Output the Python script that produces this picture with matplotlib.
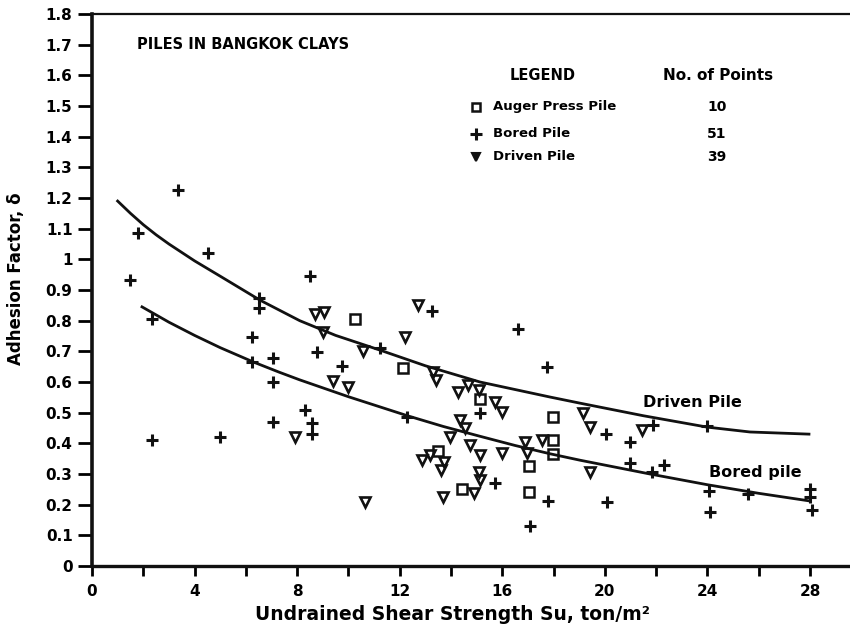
import matplotlib
matplotlib.use('Agg')
import matplotlib.pyplot as plt
import numpy as np


#adhesion factor vs undrained shear strength, piles in bangkok clays
auger_su = [10.26, 12.13, 15.13, 17.96, 17.98, 17.96, 17.05, 17.04, 14.42, 13.48]
auger_alpha = [0.805, 0.645, 0.545, 0.485, 0.41, 0.365, 0.326, 0.241, 0.251, 0.376]

bored_su = [1.48, 1.8, 2.35, 2.33, 3.37, 4.53, 5.0, 6.5, 6.5, 6.25, 6.23, 7.07, 7.07,
            7.07, 8.5, 8.3, 8.58, 8.58, 8.77, 9.75, 11.23, 12.3, 13.26, 15.13, 15.72,
            16.6, 17.75, 17.78, 17.1, 20.05, 21.0, 21.88, 20.98, 21.84, 22.3, 20.08,
            24.0, 24.06, 24.1, 25.6, 28.0, 28.0, 28.06]
bored_alpha = [0.933, 1.086, 0.805, 0.41, 1.225, 1.02, 0.42, 0.875, 0.84, 0.747, 0.665,
               0.678, 0.60, 0.468, 0.946, 0.508, 0.466, 0.43, 0.698, 0.652, 0.71, 0.487,
               0.831, 0.499, 0.27, 0.773, 0.649, 0.212, 0.13, 0.43, 0.405, 0.46, 0.336,
               0.307, 0.329, 0.209, 0.458, 0.245, 0.176, 0.235, 0.251, 0.225, 0.183]

driven_su = [7.92, 8.7, 9.05, 9.0, 9.4, 9.98, 10.57, 10.65, 12.2, 12.7, 13.3, 13.42,
             12.85, 13.2, 13.73, 13.6, 13.7, 13.96, 14.28, 14.67, 15.1, 15.72, 16.0,
             14.35, 14.55, 14.74, 15.13, 16.0, 15.1, 15.13, 14.9, 16.9, 16.97, 17.55,
             19.15, 19.42, 19.42, 21.45]
driven_alpha = [0.42, 0.822, 0.828, 0.763, 0.603, 0.585, 0.70, 0.209, 0.748, 0.851, 0.633,
                0.606, 0.345, 0.362, 0.339, 0.313, 0.226, 0.42, 0.567, 0.59, 0.574, 0.535,
                0.502, 0.476, 0.45, 0.394, 0.363, 0.368, 0.307, 0.28, 0.237, 0.405, 0.368,
                0.41, 0.498, 0.453, 0.307, 0.443]

#trend curves
driven_curve_su = [1.0, 1.5, 2.0, 2.5, 3.0, 4.0, 5.0, 6.55, 8.1, 9.5, 11.23, 13.0, 15.13,
                   17.86, 19.03, 21.5, 23.98, 25.66, 27.96]
driven_curve_alpha = [1.19, 1.15, 1.113, 1.08, 1.05, 0.995, 0.945, 0.867, 0.80, 0.752,
                      0.704, 0.653, 0.60, 0.551, 0.531, 0.49, 0.453, 0.437, 0.43]
bored_curve_su = [1.95, 3.0, 4.0, 5.0, 6.3, 7.3, 8.1, 10.0, 12.3, 13.7, 15.13, 16.5,
                  17.86, 19.03, 21.76, 24.0, 26.0, 28.0]
bored_curve_alpha = [0.845, 0.795, 0.752, 0.712, 0.665, 0.632, 0.607, 0.552, 0.49, 0.455,
                     0.423, 0.393, 0.366, 0.345, 0.30, 0.265, 0.237, 0.212]

legend_names = ['Auger Press Pile', 'Bored Pile', 'Driven Pile']
legend_counts = ['10', '51', '39']

xticks_major = [0, 4, 8, 12, 16, 20, 24, 28]
yticks = [0, 0.1, 0.2, 0.3, 0.4, 0.5, 0.6, 0.7, 0.8, 0.9, 1.0,
          1.1, 1.2, 1.3, 1.4, 1.5, 1.6, 1.7, 1.8]

ink = '#111111'
plt.rcParams['font.family'] = ['DejaVu Sans']
plt.rcParams['font.weight'] = 'bold'

fig = plt.figure(figsize=(8.5, 6.3), dpi=100)
ax = fig.add_axes([92/850, 64/630, 758/850, 552/630])

ax.plot(driven_curve_su, driven_curve_alpha, color=ink, lw=2.0)
ax.plot(bored_curve_su, bored_curve_alpha, color=ink, lw=2.0)

ax.plot(auger_su, auger_alpha, lw=0, marker='s', ms=7, mfc='none', mec=ink, mew=1.8)
ax.plot(bored_su, bored_alpha, lw=0, marker='+', ms=9, mec=ink, mew=2.2)
ax.plot(driven_su, driven_alpha, lw=0, marker='v', ms=7.5, mfc='none', mec=ink, mew=1.9)

ax.set_xlim(0, 29.56)
ax.set_ylim(0, 1.8)

ax.set_xticks(xticks_major)
ax.set_xticks([2, 6, 10, 14, 18, 22, 26], minor=True)
ax.set_yticks(yticks)
ax.set_yticklabels(['%g' % v for v in yticks])
ax.tick_params(axis='y', direction='out', length=10, width=2, pad=4, labelsize=11)
ax.tick_params(axis='x', which='both', direction='out', length=7, width=2, pad=6, labelsize=11)

ax.spines['right'].set_visible(False)
ax.spines['left'].set_linewidth(2.6)
ax.spines['bottom'].set_linewidth(2.4)
ax.spines['top'].set_linewidth(1.6)
for s in ax.spines.values():
    s.set_color(ink)

ax.set_ylabel('Adhesion Factor, δ', fontsize=12, fontweight='bold')
ax.yaxis.set_label_coords(-0.088, 0.52)
fig.text(452/850, 1 - 615/630, 'Undrained Shear Strength Su, ton/m²',
         ha='center', va='center', fontsize=13.5, fontweight='bold')

#title and hand-made legend table
ax.text(1.75, 1.70, 'PILES IN BANGKOK CLAYS', fontsize=10.5, fontweight='heavy',
        va='center', ha='left')
ax.text(17.59, 1.60, 'LEGEND', fontsize=10.5, fontweight='heavy', ha='center', va='center')
ax.text(24.41, 1.60, 'No. of Points', fontsize=11, fontweight='heavy', ha='center', va='center')

rows_y = [1.497, 1.409, 1.334]
markers = [dict(marker='s', ms=6, mfc='none', mew=1.8),
           dict(marker='+', ms=8, mew=2.2),
           dict(marker='v', ms=6, mfc=ink, mew=1.5)]
for name, count, y, mk in zip(legend_names, legend_counts, rows_y, markers):
    ax.plot([14.98], [y], lw=0, mec=ink, **mk)
    ax.text(15.64, y, name, fontsize=9.5, fontweight='heavy', ha='left', va='center')
    ax.text(24.37, y, count, fontsize=10, fontweight='heavy', ha='center', va='center')

ax.text(21.5, 0.532, 'Driven Pile', fontsize=11.5, fontweight='heavy', ha='left', va='center')
ax.text(24.06, 0.306, 'Bored pile', fontsize=11.5, fontweight='heavy', ha='left', va='center')

fig.savefig('out.png', dpi=100)
